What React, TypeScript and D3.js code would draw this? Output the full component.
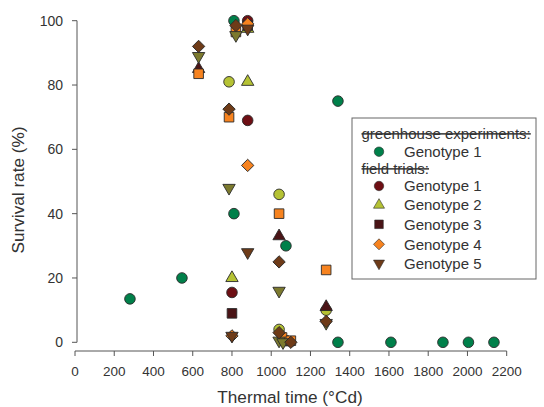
import React from "react";
import * as d3 from "d3";

// ---- data ----
const xTicks = [0, 200, 400, 600, 800, 1000, 1200, 1400, 1600, 1800, 2000, 2200];
const yTicks = [0, 20, 40, 60, 80, 100];

const greenhouseG1: [number, number][] = [
  [280, 13.5], [545, 20], [810, 40], [810, 100], [1075, 30], [1340, 75],
  [1340, 0], [1610, 0], [1875, 0], [2005, 0], [2135, 0],
];
// unlabeled field series (second trial)
const extraCircle: [number, number][] = [[785, 81], [1040, 46], [1280, 10], [1040, 4]];
const extraTriangle: [number, number][] = [[630, 85], [1040, 33], [1280, 11], [1085, 0]];
const extraSquare: [number, number][] = [[630, 83.5], [785, 70], [820, 96.5], [1040, 40], [1280, 22.5], [1055, 1.5], [1100, 0.5]];
const extraInvTri: [number, number][] = [[630, 89], [785, 48], [820, 95.5], [1040, 16], [1280, 6], [1040, 0.5], [1060, 0]];
const extraDiamond: [number, number][] = [[630, 92], [785, 72.5], [820, 98.5], [1040, 25], [1280, 6.5], [1040, 3], [1100, 0]];
// legend field series
const fieldG1: [number, number][] = [[800, 15.5], [880, 69], [880, 100]];
const fieldG2: [number, number][] = [[800, 20], [880, 81], [880, 97.5]];
const fieldG3: [number, number][] = [[800, 9], [880, 98.5]];
const fieldG4: [number, number][] = [[800, 2], [880, 55], [880, 99]];
const fieldG5: [number, number][] = [[800, 2], [880, 28], [880, 97.5]];

type Shape = "circle" | "triangle" | "square" | "diamond" | "invtri";

const C_GREEN = "#00804a";
const C_DKRED = "#6e0f14";
const C_YG = "#b5c234";
const C_MAROON = "#4a1416";
const C_ORANGE = "#f7831f";
const C_BROWN = "#6e3b18";
const C_OLIVE = "#7c7a2e";

const series: { data: [number, number][]; shape: Shape; color: string }[] = [
  { data: greenhouseG1, shape: "circle", color: C_GREEN },
  { data: extraCircle, shape: "circle", color: C_YG },
  { data: extraTriangle, shape: "triangle", color: C_MAROON },
  { data: extraSquare, shape: "square", color: C_ORANGE },
  { data: extraInvTri, shape: "invtri", color: C_OLIVE },
  { data: extraDiamond, shape: "diamond", color: C_BROWN },
  { data: fieldG1, shape: "circle", color: C_DKRED },
  { data: fieldG2, shape: "triangle", color: C_YG },
  { data: fieldG3, shape: "square", color: C_MAROON },
  { data: fieldG4, shape: "diamond", color: C_ORANGE },
  { data: fieldG5, shape: "invtri", color: C_BROWN },
];

const legendItems: { label: string; shape: Shape; color: string; header?: boolean }[] = [
  { label: "greenhouse experiments:", shape: "circle", color: "", header: true },
  { label: "Genotype 1", shape: "circle", color: C_GREEN },
  { label: "field trials:", shape: "circle", color: "", header: true },
  { label: "Genotype 1", shape: "circle", color: C_DKRED },
  { label: "Genotype 2", shape: "triangle", color: C_YG },
  { label: "Genotype 3", shape: "square", color: C_MAROON },
  { label: "Genotype 4", shape: "diamond", color: C_ORANGE },
  { label: "Genotype 5", shape: "invtri", color: C_BROWN },
];

function symbolPath(shape: Shape, scale = 1): { d: string; rot: number } {
  const gen = d3.symbol();
  switch (shape) {
    case "circle":
      return { d: gen.type(d3.symbolCircle).size(88 * scale)() as string, rot: 0 };
    case "triangle":
      return { d: gen.type(d3.symbolTriangle).size(66 * scale)() as string, rot: 0 };
    case "invtri":
      return { d: gen.type(d3.symbolTriangle).size(66 * scale)() as string, rot: 180 };
    case "square":
      return { d: gen.type(d3.symbolSquare).size(92 * scale)() as string, rot: 0 };
    case "diamond":
      return { d: gen.type(d3.symbolSquare).size(76 * scale)() as string, rot: 45 };
  }
}

export default function App() {
  const W = 544, H = 407;
  const x = d3.scaleLinear().domain([0, 2200]).range([75, 506.7]);
  const y = d3.scaleLinear().domain([0, 100]).range([342.3, 20.7]);
  const font = "'Liberation Sans', Arial, sans-serif";
  const axisColor = "#555";
  const textColor = "#333";
  const xAxisY = 351;
  const yAxisX = 77;

  const legX = 352, legY = 118, legW = 184, legH = 161;
  const rowY = [133.3, 151.7, 168.3, 186, 205, 224.3, 244.3, 263.3];

  return (
    <div style={{ position: "absolute", left: 0, top: 0 }}>
      <svg width={W} height={H} style={{ display: "block", background: "#fff" }} fontFamily={font}>
        {/* y axis */}
        <line x1={yAxisX} x2={yAxisX} y1={y(100)} y2={y(0)} stroke={axisColor} strokeWidth={1} />
        {yTicks.map((t) => (
          <g key={"yt" + t}>
            <line x1={yAxisX - 5} x2={yAxisX} y1={y(t)} y2={y(t)} stroke={axisColor} />
            <text x={63} y={y(t)} dy="0.35em" textAnchor="end" fontSize={14} fill={textColor}>{t}</text>
          </g>
        ))}
        {/* x axis */}
        <line x1={x(0)} x2={x(2200)} y1={xAxisY} y2={xAxisY} stroke={axisColor} />
        {xTicks.map((t) => (
          <g key={"xt" + t}>
            <line x1={x(t)} x2={x(t)} y1={xAxisY} y2={xAxisY + 5} stroke={axisColor} />
            <text x={x(t)} y={376} textAnchor="middle" fontSize={13.5} fill={textColor}>{t}</text>
          </g>
        ))}
        <text x={290} y={403} textAnchor="middle" fontSize={17.2} fill={textColor}>Thermal time (°Cd)</text>
        <text transform={`translate(24,190) rotate(-90)`} textAnchor="middle" fontSize={17.2} fill={textColor}>Survival rate (%)</text>

        {/* points */}
        {series.map((s, si) => {
          const p = symbolPath(s.shape);
          return (
            <g key={"s" + si}>
              {s.data.map(([vx, vy], i) => (
                <path key={i} d={p.d} transform={`translate(${x(vx)},${y(vy)}) rotate(${p.rot})`}
                  fill={s.color} stroke="#2a2a2a" strokeWidth={0.9} />
              ))}
            </g>
          );
        })}

        {/* legend */}
        <rect x={legX} y={legY} width={legW} height={legH} fill="#fff" stroke="#666" strokeWidth={1} />
        {legendItems.map((it, i) => {
          if (it.header) {
            return (
              <text key={"l" + i} x={361.5} y={rowY[i]} dy="0.35em" fontSize={15} fill={textColor}
                style={{ textDecoration: "line-through" }}>{it.label}</text>
            );
          }
          const p = symbolPath(it.shape, 0.8);
          return (
            <g key={"l" + i}>
              <path d={p.d} transform={`translate(379,${rowY[i]}) rotate(${p.rot})`} fill={it.color}
                stroke="#2a2a2a" strokeWidth={0.6} />
              <text x={404} y={rowY[i]} dy="0.35em" fontSize={15} fill={textColor}>{it.label}</text>
            </g>
          );
        })}
      </svg>
    </div>
  );
}
